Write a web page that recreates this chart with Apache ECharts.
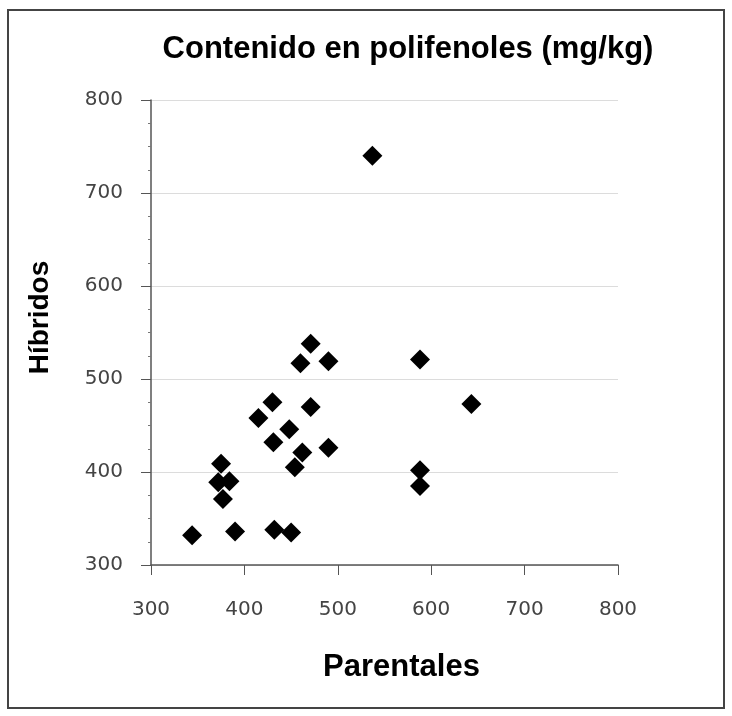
<!DOCTYPE html>
<html><head><meta charset="utf-8">
<script src="https://cdn.jsdelivr.net/npm/echarts@6/dist/echarts.min.js"></script>
<style>html,body{margin:0;padding:0;background:#fff}#c{width:732px;height:716px}</style>
</head><body><div id="c"></div>
<script>
const parentales = [537,471,460,490,588,430,471,643,415,448,431,462,490,454,588,588,375,372,384,377,344,390,432,450];
const hibridos   = [740,538,517,519,521,475,470,473,458,446,432,421,426,405,402,385,409,389,390,371,332,336,338,335];
const xTicks = [300,400,500,600,700,800];
const yTicks = [300,400,500,600,700,800];
const points = parentales.map((x,i)=>[x,hibridos[i]]);
const chart = echarts.init(document.getElementById('c'));
chart.setOption({
  animation:false,
  backgroundColor:'#fff',
  title:{text:'Contenido en polifenoles (mg/kg)',left:403,top:29,textAlign:'center',
    textStyle:{fontFamily:'Liberation Sans',fontWeight:'bold',fontSize:31,color:'#000'}},
  graphic:[{type:'rect',shape:{x:8,y:10,width:716,height:698},style:{fill:'none',stroke:'#444',lineWidth:2},silent:true}],
  grid:{left:151,top:100,right:114,bottom:151},
  xAxis:{type:'value',min:xTicks[0],max:xTicks[xTicks.length-1],interval:100,
    name:'Parentales',nameLocation:'middle',nameGap:87,
    nameTextStyle:{fontFamily:'Liberation Sans',fontWeight:'bold',fontSize:31,color:'#000',padding:[0,0,0,34]},
    axisLine:{show:true,lineStyle:{color:'#555',width:1.5}},
    axisTick:{show:true,length:10,lineStyle:{color:'#555'}},
    axisLabel:{fontFamily:'DejaVu Sans',fontSize:20,color:'#444',margin:35},
    splitLine:{show:false}},
  yAxis:{type:'value',min:yTicks[0],max:yTicks[yTicks.length-1],interval:100,
    name:'Híbridos',nameLocation:'middle',nameGap:97,nameRotate:90,
    nameTextStyle:{fontFamily:'Liberation Sans',fontWeight:'bold',fontSize:28,color:'#000',padding:[0,0,0,30]},
    axisLine:{show:true,lineStyle:{color:'#555',width:1.5}},
    axisTick:{show:true,length:10,lineStyle:{color:'#555'}},
    minorTick:{show:true,splitNumber:4,length:3,lineStyle:{color:'#777'}},
    axisLabel:{fontFamily:'DejaVu Sans',fontSize:20,color:'#444',margin:28},
    splitLine:{show:true,lineStyle:{color:'#dcdcdc',width:1}}},
  series:[{type:'scatter',data:points,symbol:'diamond',symbolSize:[20,20],
    itemStyle:{color:'#000',opacity:1}}]
});
</script></body></html>
